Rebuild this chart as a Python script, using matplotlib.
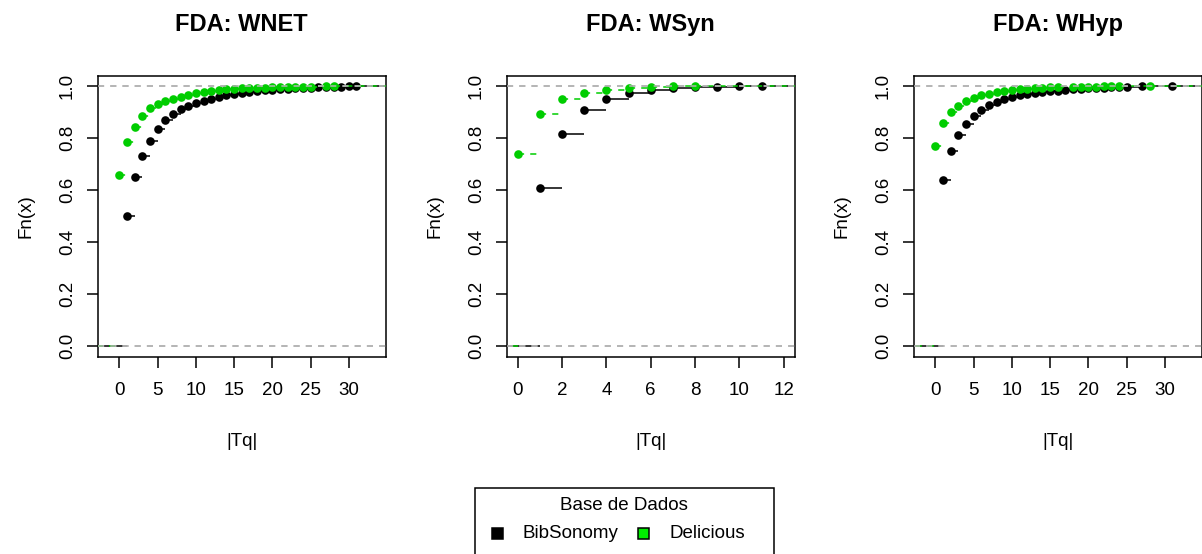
import matplotlib
matplotlib.use("Agg")
import matplotlib.pyplot as plt
from matplotlib.patches import Rectangle

plt.rcParams['font.family'] = ['Liberation Sans', 'DejaVu Sans']

# ---------------- data ----------------
titles = ["FDA: WNET", "FDA: WSyn", "FDA: WHyp"]
series_names = ["BibSonomy", "Delicious"]
legend_title = "Base de Dados"
x_label = "|Tq|"
y_label = "Fn(x)"

wnet_bib_x = list(range(1, 32))
wnet_bib_F = [0.500, 0.652, 0.730, 0.790, 0.835, 0.870, 0.894, 0.911, 0.923, 0.934,
              0.943, 0.951, 0.958, 0.964, 0.969, 0.974, 0.978, 0.981, 0.984, 0.986,
              0.988, 0.990, 0.992, 0.993, 0.994, 0.995, 0.996, 0.997, 0.998, 0.999, 1.000]
wnet_del_x = list(range(0, 26)) + [27, 28]
wnet_del_F = [0.657, 0.786, 0.843, 0.886, 0.915, 0.932, 0.944, 0.952, 0.960, 0.967,
              0.973, 0.977, 0.981, 0.984, 0.987, 0.989, 0.991, 0.992, 0.993, 0.994,
              0.995, 0.996, 0.997, 0.997, 0.998, 0.998, 0.999, 1.000]

wsyn_bib_x = list(range(1, 12))
wsyn_bib_F = [0.610, 0.815, 0.908, 0.949, 0.974, 0.985, 0.991, 0.995, 0.998, 0.999, 1.000]
wsyn_del_x = list(range(0, 9))
wsyn_del_F = [0.740, 0.891, 0.949, 0.974, 0.985, 0.994, 0.997, 0.999, 1.000]

whyp_bib_x = list(range(1, 26)) + [27, 31]
whyp_bib_F = [0.641, 0.751, 0.813, 0.854, 0.887, 0.908, 0.926, 0.939, 0.950, 0.958,
              0.964, 0.969, 0.973, 0.977, 0.980, 0.983, 0.986, 0.988, 0.990, 0.992,
              0.993, 0.994, 0.995, 0.996, 0.997, 0.999, 1.000]
whyp_del_x = list(range(0, 17)) + list(range(18, 25)) + [28]
whyp_del_F = [0.770, 0.857, 0.902, 0.923, 0.942, 0.954, 0.964, 0.971, 0.976, 0.981,
              0.985, 0.987, 0.990, 0.992, 0.994, 0.995, 0.996, 0.997, 0.997, 0.998,
              0.998, 0.999, 0.999, 0.999, 1.000]

x_ticks = [list(range(0, 31, 5)), list(range(0, 13, 2)), list(range(0, 31, 5))]
y_ticks = [0.0, 0.2, 0.4, 0.6, 0.8, 1.0]

panels = [
    (wnet_bib_x, wnet_bib_F, wnet_del_x, wnet_del_F),
    (wsyn_bib_x, wsyn_bib_F, wsyn_del_x, wsyn_del_F),
    (whyp_bib_x, whyp_bib_F, whyp_del_x, whyp_del_F),
]

colors = ["black", "#00CD00"]
legend_fill = ["black", "#00EE00"]
styles = ["solid", (0, (4, 4))]
gray = "#B3B3B3"

# ---------------- layout ----------------
W, H = 1202, 554
fig = plt.figure(figsize=(W / 100, H / 100), dpi=100)

def fx(px):
    return px / W

def fy(py):
    return 1 - py / H

ax_left_px = [98, 507, 914]
ax_w_px = 287.5
ax_top_px, ax_bot_px = 75.7, 356.7


def ecdf(ax, kx, kF, color, ls, z):
    lo, hi = -1e3, 1e3
    starts = [lo] + list(kx)
    ends = list(kx) + [hi]
    levels = [0.0] + list(kF)
    ax.hlines(levels, starts, ends, colors=color, linestyles=ls, lw=1.1, zorder=z)
    ax.plot(kx, kF, 'o', color=color, ms=6.2, mew=0, zorder=z + 0.1)
    for h in (0, 1):
        ax.axhline(h, color=gray, ls=(0, (4, 4)), lw=1.1, zorder=z + 0.5)


for i, (bx, bF, dx, dF) in enumerate(panels):
    ax = fig.add_axes([fx(ax_left_px[i]), fy(ax_bot_px), fx(ax_w_px),
                       (ax_bot_px - ax_top_px) / H])
    ecdf(ax, bx, bF, colors[0], styles[0], 2)
    ecdf(ax, dx, dF, colors[1], styles[1], 3)

    # R-style x range from the first (BibSonomy) series
    rx0, rx1 = min(bx), max(bx)
    diffs = sorted(b - a for a, b in zip(bx[:-1], bx[1:]))
    n = len(diffs)
    med = diffs[n // 2] if n % 2 else 0.5 * (diffs[n // 2 - 1] + diffs[n // 2])
    dr = max(0.08 * (rx1 - rx0), med)
    a, b = rx0 - dr, rx1 + dr
    ext = 0.04 * (b - a)
    ax.set_xlim(a - ext, b + ext)
    ax.set_ylim(-0.04, 1.04)

    ax.set_xticks(x_ticks[i])
    ax.set_yticks(y_ticks)
    ax.set_yticklabels([f"{v:.1f}" for v in y_ticks])
    ax.tick_params(direction='out', length=8, width=1.1, labelsize=13.5,
                   color='black', labelcolor='black')
    ax.tick_params(axis='x', pad=10)
    ax.tick_params(axis='y', pad=8, labelrotation=90)
    for lab in ax.get_yticklabels():
        lab.set_va('center')
    for s in ax.spines.values():
        s.set_linewidth(1.1)
        s.set_color('black')

    ax.text(0.5, 1 + 51 / 281, titles[i], transform=ax.transAxes, ha='center',
            va='center', fontsize=17, fontweight='bold')
    ax.text(0.5, -85 / 281, x_label, transform=ax.transAxes, ha='center',
            va='center', fontsize=13.5)
    ax.text(-72 / 287.5, 0.5, y_label, transform=ax.transAxes, ha='center',
            va='center', fontsize=13.5, rotation=90)

# ---------------- legend ----------------
box = Rectangle((fx(474.5), fy(570)), fx(773.5) - fx(474.5), fy(487.5) - fy(570),
                transform=fig.transFigure, fill=False, edgecolor='black', lw=1.1)
fig.patches.append(box)
fig.text(fx(623.5), fy(505), legend_title, ha='center', va='center', fontsize=13.5)
sq = 11
for (cxp, txp, name, col) in [(497, 523, series_names[0], legend_fill[0]),
                              (643, 670, series_names[1], legend_fill[1])]:
    r = Rectangle((fx(cxp - sq / 2), fy(533 + sq / 2)), sq / W, sq / H,
                  transform=fig.transFigure, facecolor=col, edgecolor='black', lw=1.1)
    fig.patches.append(r)
    fig.text(fx(txp), fy(533), name, ha='left', va='center', fontsize=13.5)

fig.savefig("out.png", dpi=100)
